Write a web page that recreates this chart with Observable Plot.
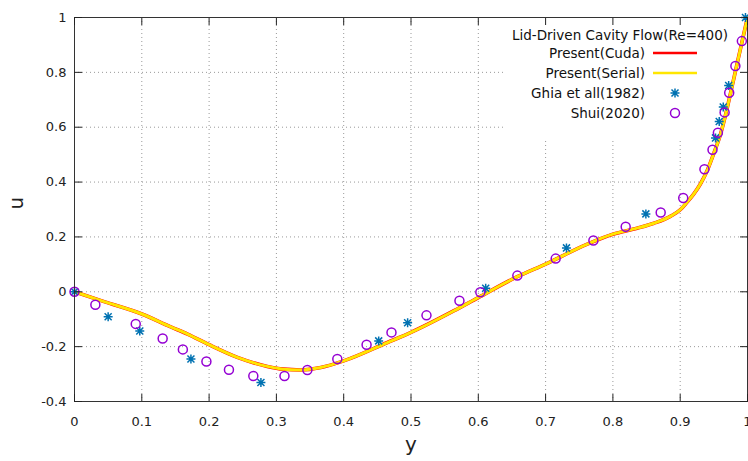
<!DOCTYPE html>
<html><head><meta charset="utf-8">
<script src="https://cdn.jsdelivr.net/npm/d3@7"></script>
<script src="https://cdn.jsdelivr.net/npm/@observablehq/plot@0.6"></script>
<style>body{margin:0;background:#fff}</style>
</head><body><div id="chart"></div>
<script>
// ---- data ----
const presentX = [0, 0.044, 0.1, 0.143, 0.168, 0.2, 0.242, 0.2865, 0.31, 0.336, 0.366, 0.4, 0.465, 0.5, 0.564, 0.6, 0.658, 0.7, 0.762, 0.8, 0.836, 0.861, 0.886, 0.9005, 0.91, 0.92, 0.93, 0.94, 0.95, 0.96, 0.97, 0.98, 0.99, 1.0];
const cudaU = [0, -0.036, -0.081, -0.128, -0.154, -0.193, -0.239, -0.272, -0.282, -0.285, -0.276, -0.252, -0.185, -0.148, -0.069, -0.021, 0.055, 0.101, 0.174, 0.210, 0.232, 0.250, 0.276, 0.300, 0.326, 0.356, 0.393, 0.441, 0.505, 0.575, 0.672, 0.781, 0.891, 1.0];
const serialU = [0, -0.036, -0.081, -0.128, -0.154, -0.193, -0.239, -0.272, -0.282, -0.285, -0.276, -0.252, -0.185, -0.148, -0.069, -0.021, 0.055, 0.101, 0.174, 0.210, 0.232, 0.250, 0.276, 0.300, 0.326, 0.356, 0.393, 0.441, 0.505, 0.575, 0.672, 0.781, 0.891, 1.0];
const ghiaX = [0, 0.050, 0.097, 0.173, 0.277, 0.452, 0.495, 0.611, 0.731, 0.849, 0.9525, 0.958, 0.964, 0.972, 0.997];
const ghiaU = [0, -0.091, -0.143, -0.245, -0.331, -0.179, -0.113, 0.013, 0.160, 0.284, 0.561, 0.621, 0.674, 0.752, 1.0];
const shuiX = [0, 0.031, 0.091, 0.131, 0.161, 0.196, 0.2295, 0.2657, 0.312, 0.346, 0.3905, 0.434, 0.471, 0.523, 0.572, 0.603, 0.658, 0.715, 0.771, 0.819, 0.871, 0.9045, 0.936, 0.948, 0.956, 0.966, 0.9728, 0.982, 0.9916];
const shuiU = [0, -0.047, -0.117, -0.170, -0.210, -0.254, -0.284, -0.307, -0.307, -0.285, -0.245, -0.193, -0.148, -0.086, -0.033, -0.002, 0.059, 0.121, 0.187, 0.237, 0.289, 0.342, 0.447, 0.518, 0.580, 0.654, 0.7255, 0.823, 0.914];
const xTicks = [0, 0.1, 0.2, 0.3, 0.4, 0.5, 0.6, 0.7, 0.8, 0.9, 1];
const yTicks = [-0.4, -0.2, 0, 0.2, 0.4, 0.6, 0.8, 1];
const legendTitle = "Lid-Driven Cavity Flow(Re=400)";
const seriesNames = ["Present(Cuda)", "Present(Serial)", "Ghia et all(1982)", "Shui(2020)"];
const seriesColors = ["#ff0000", "#ffe600", "#0072b2", "#9400d3"];
const xLabel = "y";
const yLabel = "u";

// ---- tables built from arrays ----
const cuda = presentX.map((x, i) => ({x, u: cudaU[i]}));
const serial = presentX.map((x, i) => ({x, u: serialU[i]}));
const ghia = ghiaX.map((x, i) => ({x, u: ghiaU[i]}));
const shui = shuiX.map((x, i) => ({x, u: shuiU[i]}));

const asterisk = {
  draw(ctx, size) {
    const r = Math.sqrt(size / Math.PI);
    const d = r * 0.78;
    ctx.moveTo(-r, 0); ctx.lineTo(r, 0);
    ctx.moveTo(0, -r); ctx.lineTo(0, r);
    ctx.moveTo(-d, -d); ctx.lineTo(d, d);
    ctx.moveTo(-d, d); ctx.lineTo(d, -d);
  }
};
const FONT = "DejaVu Sans, sans-serif";

function legendBg(index, scales, values, dims) {
  return d3.create("svg:rect")
    .attr("x", 503).attr("y", dims.marginTop + 0.5)
    .attr("width", dims.width - dims.marginRight - 503 - 0.5).attr("height", 123)
    .attr("fill", "white").node();
}

function legend(index, scales, values, dims) {
  const g = d3.create("svg:g").attr("font-family", FONT).attr("font-size", 13.5).attr("fill", "#111");
  g.append("text").attr("x", 728).attr("y", 35).attr("dy", "0.35em").attr("text-anchor", "end").text(legendTitle);
  seriesNames.forEach((name, i) => {
    const y = 53 + 20 * i;
    g.append("text").attr("x", 645).attr("y", y).attr("dy", "0.35em").attr("text-anchor", "end").text(name);
    if (i < 2) {
      g.append("line").attr("x1", 653).attr("x2", 697).attr("y1", y).attr("y2", y)
        .attr("stroke", seriesColors[i]).attr("stroke-width", 2.5);
    } else if (i === 2) {
      g.append("path").attr("transform", `translate(675,${y})`)
        .attr("d", d3.symbol(asterisk, Math.PI * 4.5 * 4.5)())
        .attr("fill", "none").attr("stroke", seriesColors[i]).attr("stroke-width", 1.5);
    } else {
      g.append("circle").attr("cx", 675).attr("cy", y).attr("r", 4.5)
        .attr("fill", "none").attr("stroke", seriesColors[i]).attr("stroke-width", 1.5);
    }
  });
  return g.node();
}

const chart = Plot.plot({
  width: 748,
  height: 461,
  marginLeft: 74,
  marginRight: 1,
  marginTop: 17,
  marginBottom: 60,
  style: {fontFamily: FONT, fontSize: "13px", color: "#222", background: "white", overflow: "visible"},
  x: {domain: [0, 1]},
  y: {domain: [-0.4, 1]},
  marks: [
    Plot.gridX({ticks: xTicks.slice(1, -1), stroke: "#999", strokeOpacity: 1, strokeDasharray: "1,3"}),
    Plot.gridY({ticks: yTicks.slice(1, -1), stroke: "#999", strokeOpacity: 1, strokeDasharray: "1,3"}),
    legendBg,
    Plot.line(cuda, {x: "x", y: "u", stroke: seriesColors[0], strokeWidth: 3.6, curve: "monotone-x"}),
    Plot.line(serial, {x: "x", y: "u", stroke: seriesColors[1], strokeWidth: 3, curve: "monotone-x"}),
    Plot.dot(ghia, {x: "x", y: "u", symbol: asterisk, r: 4.5, stroke: seriesColors[2], strokeWidth: 1.5, fill: "none"}),
    Plot.dot(shui, {x: "x", y: "u", symbol: "circle", r: 4.5, stroke: seriesColors[3], strokeWidth: 1.5, fill: "none"}),
    Plot.frame({stroke: "#333"}),
    Plot.axisX({ticks: xTicks, tickFormat: d => String(d), tickSize: -7, tickPadding: 22, label: null, fontSize: 13}),
    Plot.axisX({anchor: "top", ticks: xTicks, tickFormat: () => "", tickSize: -7, label: null}),
    Plot.axisY({ticks: yTicks, tickFormat: d => String(d), tickSize: -8, tickPadding: 16, label: null, fontSize: 13}),
    Plot.axisY({anchor: "right", ticks: yTicks, tickFormat: () => "", tickSize: -8, label: null}),
    Plot.text([xLabel], {frameAnchor: "bottom", dy: 49, fontSize: 20, fill: "#222"}),
    Plot.text([yLabel], {frameAnchor: "left", dx: -58, rotate: -90, fontSize: 20, fill: "#222"}),
    legend
  ]
});
document.getElementById("chart").appendChild(chart);
</script>
</body></html>
